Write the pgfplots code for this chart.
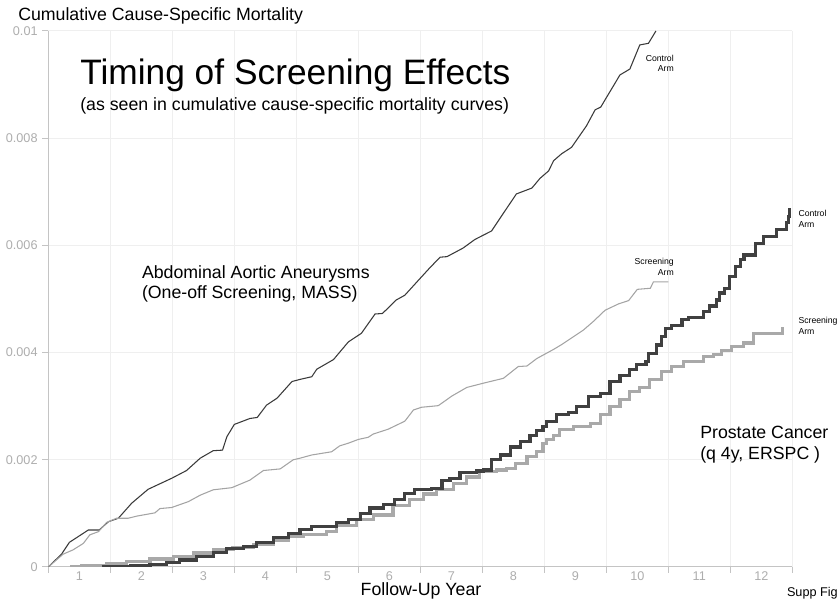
\documentclass[border=0pt]{standalone}
\usepackage{pgfplots}
\pgfplotsset{compat=1.18}
\usepackage{fontspec}
\setmainfont{Liberation Sans}
\definecolor{axisgray}{HTML}{C4C4C4}
\definecolor{gridgray}{HTML}{EFEFEF}
\definecolor{labelgray}{HTML}{ADADAD}
\definecolor{aaactrl}{HTML}{3A3A3A}
\definecolor{aaascr}{HTML}{A4A4A4}
\definecolor{prctrl}{HTML}{404040}
\definecolor{prscr}{HTML}{A9A9A9}
\begin{document}
\begin{tikzpicture}
\useasboundingbox (0,0) rectangle (629.25pt,449.25pt);
\begin{axis}[
  at={(36.225pt,24pt)}, anchor=south west,
  width=558pt, height=402pt, scale only axis,
  xmin=0, xmax=12, ymin=0, ymax=0.01,
  axis x line*=bottom, axis y line*=left,
  axis line style={draw=axisgray, line width=0.75pt, -},
  xtick={0,1,...,12}, xticklabels={},
  extra x ticks={0.5,1.5,2.5,3.5,4.5,5.5,6.5,7.5,8.5,9.5,10.5,11.5},
  extra x tick labels={1,2,3,4,5,6,7,8,9,10,11,12},
  extra x tick style={major tick length=0pt, grid=none},
  ytick={0,0.002,0.004,0.006,0.008,0.01},
  yticklabels={0,0.002,0.004,0.006,0.008,0.01},
  scaled y ticks=false,
  tick align=outside, major tick length=4.5pt,
  tick style={draw=axisgray, line width=0.75pt},
  grid=major, major grid style={draw=gridgray, line width=0.75pt},
  tick label style={font=\fontsize{9.5}{11}\selectfont, text=labelgray},
  /pgf/number format/assume math mode=true,
]
% AAA control arm
\addplot[color=aaactrl, line width=0.8pt] coordinates {
(0,0) (0.215,0.242e-3) (0.34,0.46e-3) (0.48,0.565e-3) (0.645,0.69e-3) (0.82,0.69e-3)
(0.97,0.845e-3) (1.13,0.91e-3) (1.345,1.19e-3) (1.61,1.45e-3) (1.99,1.655e-3)
(2.23,1.80e-3) (2.45,2.03e-3) (2.66,2.17e-3) (2.81,2.18e-3) (2.88,2.43e-3)
(3.0,2.66e-3) (3.25,2.77e-3) (3.37,2.79e-3) (3.52,3.02e-3) (3.69,3.15e-3)
(3.93,3.46e-3) (4.06,3.50e-3) (4.25,3.55e-3) (4.33,3.69e-3) (4.60,3.87e-3)
(4.84,4.20e-3) (5.05,4.36e-3) (5.27,4.72e-3) (5.39,4.73e-3) (5.61,4.98e-3)
(5.75,5.07e-3) (5.97,5.35e-3) (6.16,5.59e-3) (6.32,5.78e-3) (6.43,5.79e-3)
(6.69,5.95e-3) (6.88,6.11e-3) (7.15,6.27e-3) (7.34,6.60e-3) (7.55,6.96e-3)
(7.80,7.07e-3) (7.93,7.25e-3) (8.07,7.39e-3) (8.15,7.58e-3) (8.28,7.71e-3)
(8.44,7.83e-3) (8.68,8.23e-3) (8.82,8.53e-3) (8.91,8.58e-3) (9.22,9.18e-3)
(9.38,9.29e-3) (9.54,9.74e-3) (9.68,9.77e-3) (9.80,10.0e-3)
};
% AAA screening arm
\addplot[color=aaascr, line width=0.8pt] coordinates {
(0,0) (0.24,0.24e-3) (0.40,0.32e-3) (0.565,0.44e-3) (0.67,0.60e-3) (0.81,0.66e-3)
(0.94,0.83e-3) (1.10,0.91e-3) (1.29,0.91e-3) (1.43,0.95e-3) (1.72,1.01e-3)
(1.80,1.09e-3) (1.99,1.11e-3) (2.26,1.22e-3) (2.45,1.34e-3) (2.66,1.44e-3)
(2.96,1.48e-3) (3.25,1.62e-3) (3.47,1.80e-3) (3.74,1.83e-3) (3.95,2.00e-3)
(4.06,2.03e-3) (4.25,2.09e-3) (4.57,2.15e-3) (4.70,2.26e-3) (4.84,2.31e-3)
(5.0,2.38e-3) (5.16,2.42e-3) (5.24,2.48e-3) (5.48,2.57e-3) (5.75,2.72e-3)
(5.89,2.93e-3) (6.02,2.98e-3) (6.29,3.01e-3) (6.51,3.19e-3) (6.75,3.35e-3)
(7.02,3.43e-3) (7.34,3.52e-3) (7.58,3.74e-3) (7.72,3.75e-3) (7.88,3.89e-3)
(8.15,4.06e-3) (8.28,4.15e-3) (8.63,4.42e-3) (8.79,4.58e-3) (8.98,4.79e-3)
(9.20,4.91e-3) (9.36,4.97e-3) (9.50,5.18e-3) (9.71,5.20e-3) (9.76,5.32e-3)
(10.0,5.32e-3)
};
% Prostate screening arm
\addplot[color=prscr, line width=2.4pt, const plot] coordinates {
(0.35,0) (0.54,0.03e-3) (0.94,0.07e-3) (1.26,0.11e-3) (1.64,0.15e-3) (2.02,0.19e-3)
(2.34,0.26e-3) (2.66,0.33e-3) (2.98,0.36e-3) (3.31,0.42e-3) (3.63,0.50e-3)
(3.87,0.57e-3) (4.11,0.60e-3) (4.49,0.66e-3) (4.65,0.78e-3) (4.97,0.88e-3)
(5.24,0.97e-3) (5.56,1.14e-3) (5.83,1.26e-3) (6.05,1.36e-3) (6.26,1.44e-3)
(6.53,1.56e-3) (6.75,1.68e-3) (6.96,1.78e-3) (7.23,1.81e-3) (7.39,1.84e-3)
(7.53,1.93e-3) (7.72,2.06e-3) (7.88,2.15e-3) (7.98,2.30e-3) (8.04,2.38e-3)
(8.15,2.46e-3) (8.25,2.56e-3) (8.47,2.62e-3) (8.74,2.68e-3) (8.90,2.84e-3)
(9.06,2.99e-3) (9.22,3.12e-3) (9.38,3.27e-3) (9.54,3.35e-3) (9.70,3.50e-3)
(9.89,3.64e-3) (10.05,3.74e-3) (10.24,3.84e-3) (10.57,3.92e-3) (10.73,3.96e-3)
(10.86,4.04e-3) (11.02,4.11e-3) (11.21,4.18e-3) (11.38,4.35e-3) (11.83,4.35e-3)
(11.84,4.47e-3)
};
% Prostate control arm
\addplot[color=prctrl, line width=2.4pt, const plot] coordinates {
(0.86,0) (1.32,0.025e-3) (1.64,0.05e-3) (1.91,0.09e-3) (2.12,0.13e-3) (2.39,0.19e-3)
(2.66,0.27e-3) (2.88,0.35e-3) (3.15,0.38e-3) (3.36,0.46e-3) (3.63,0.55e-3)
(3.87,0.63e-3) (4.06,0.70e-3) (4.25,0.75e-3) (4.65,0.83e-3) (4.84,0.88e-3)
(5.03,1.00e-3) (5.19,1.10e-3) (5.40,1.16e-3) (5.59,1.26e-3) (5.75,1.37e-3)
(5.91,1.45e-3) (6.18,1.47e-3) (6.35,1.62e-3) (6.48,1.65e-3) (6.64,1.76e-3)
(6.91,1.79e-3) (7.02,1.81e-3) (7.15,2.01e-3) (7.29,2.09e-3) (7.45,2.24e-3)
(7.61,2.34e-3) (7.77,2.46e-3) (7.88,2.54e-3) (7.98,2.62e-3) (8.04,2.71e-3)
(8.20,2.84e-3) (8.39,2.88e-3) (8.52,3.00e-3) (8.71,3.18e-3) (8.90,3.24e-3)
(9.06,3.46e-3) (9.22,3.58e-3) (9.38,3.69e-3) (9.49,3.78e-3) (9.64,3.83e-3)
(9.68,3.99e-3) (9.81,4.14e-3) (9.89,4.30e-3) (9.96,4.45e-3) (10.05,4.51e-3)
(10.22,4.61e-3) (10.32,4.66e-3) (10.57,4.76e-3) (10.67,4.87e-3) (10.78,4.98e-3)
(10.83,5.11e-3) (10.91,5.20e-3) (10.99,5.42e-3) (11.08,5.60e-3) (11.16,5.73e-3)
(11.22,5.82e-3) (11.41,6.04e-3) (11.53,6.16e-3) (11.74,6.29e-3) (11.90,6.42e-3)
(11.94,6.54e-3) (11.95,6.70e-3)
};
\end{axis}
\begin{scope}[every node/.style={inner sep=0pt}]
\node[anchor=base west, font=\fontsize{13.3}{15}\selectfont] at (13.5pt,433.9pt) {Cumulative Cause-Specific Mortality};
\node[anchor=base west, font=\fontsize{26.5}{30}\selectfont] at (60pt,385.5pt) {Timing of Screening Effects};
\node[anchor=base west, font=\fontsize{13.3}{15}\selectfont] at (60pt,366pt) {(as seen in cumulative cause-specific mortality curves)};
\node[anchor=base west, font=\fontsize{13.3}{15}\selectfont] at (106.3pt,240.5pt) {Abdominal Aortic Aneurysms};
\node[anchor=base west, font=\fontsize{13.3}{15}\selectfont] at (106.3pt,225.5pt) {(One-off Screening, MASS)};
\node[anchor=base west, font=\fontsize{13.3}{15}\selectfont] at (525pt,120pt) {Prostate Cancer};
\node[anchor=base west, font=\fontsize{13.3}{15}\selectfont] at (525pt,104.8pt) {(q 4y, ERSPC )};
\node[anchor=base east, font=\fontsize{6.5}{7.5}\selectfont] at (505.5pt,403pt) {Control};
\node[anchor=base east, font=\fontsize{6.5}{7.5}\selectfont] at (505.5pt,395.5pt) {Arm};
\node[anchor=base east, font=\fontsize{6.5}{7.5}\selectfont] at (505.5pt,250.5pt) {Screening};
\node[anchor=base east, font=\fontsize{6.5}{7.5}\selectfont] at (505.5pt,242.5pt) {Arm};
\node[anchor=base west, font=\fontsize{6.5}{7.5}\selectfont] at (598.7pt,286.7pt) {Control};
\node[anchor=base west, font=\fontsize{6.5}{7.5}\selectfont] at (598.7pt,278.8pt) {Arm};
\node[anchor=base west, font=\fontsize{6.5}{7.5}\selectfont] at (598.7pt,206.25pt) {Screening};
\node[anchor=base west, font=\fontsize{6.5}{7.5}\selectfont] at (598.7pt,198pt) {Arm};
\node[anchor=base, font=\fontsize{13.3}{15}\selectfont] at (315.75pt,2.25pt) {Follow-Up Year};
\node[anchor=base east, font=\fontsize{9.5}{11}\selectfont] at (628.5pt,2.2pt) {Supp Fig};
\end{scope}
\end{tikzpicture}
\end{document}
